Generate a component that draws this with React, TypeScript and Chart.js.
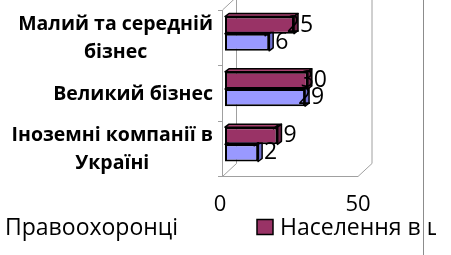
import React, { useEffect, useRef } from "react";
import { Chart, registerables } from "chart.js";

Chart.register(...registerables);

// ---- data ----
const categories: string[][] = [
  ["Малий та середній", "бізнес"],
  ["Великий бізнес"],
  ["Іноземні компанії в", "Україні"],
];
const seriesNames = ["Правоохоронці", "Населення в цілому"];
const lawEnforcement = [16, 29, 12];
const population = [25, 30, 19];
const xMin = 0;
const xMax = 50;
const xStep = 50;

// ---- styles ----
const PURPLE = "#993366";
const PURPLE_SIDE = "#6e2449";
const PURPLE_TOP = "#a8416f";
const BLUE = "#9999FF";
const BLUE_SIDE = "#6f6fcf";
const BLUE_TOP = "#a5a5ff";
const FRAME = "#a0a0a0";
const DX = 4;
const DY = 3;
const FONT = "'Open Sans', 'DejaVu Sans', sans-serif";

const faceColors: Record<number, { side: string; top: string }> = {
  0: { side: PURPLE_SIDE, top: PURPLE_TOP },
  1: { side: BLUE_SIDE, top: BLUE_TOP },
};

const decorPlugin = {
  id: "decor3d",
  beforeDatasetsDraw(chart: any) {
    const { ctx, chartArea: a, scales } = chart;
    const xs = scales.x;
    const ys = scales.y;
    const x0 = xs.getPixelForValue(xMin);
    const x1 = xs.getPixelForValue(xMax);
    const fl = x0 - 3;
    const fr = x1 - 5;
    const fb = a.bottom + 4.5;
    const ft = a.top + 4;
    const bl = x0 + 11;
    const br = x1 + 8.5;
    const bb = a.bottom - 8.5;
    const bt = a.top - 9;
    ctx.save();
    ctx.strokeStyle = FRAME;
    ctx.lineWidth = 1;
    const line = (ax: number, ay: number, bx: number, by: number) => {
      ctx.beginPath();
      ctx.moveTo(ax, ay);
      ctx.lineTo(bx, by);
      ctx.stroke();
    };
    line(fl + 0.5, ft, fl + 0.5, fb);
    line(fl + 0.5, ft, bl + 0.5, bt);
    line(bl + 0.5, bt, bl + 0.5, bb);
    line(fl + 0.5, fb, bl + 0.5, bb);
    line(fl, fb, fr, fb);
    line(fr, fb, br + 0.5, bb);
    line(br + 0.5, bb, br + 0.5, 0);
    for (let i = 0; i <= categories.length; i++) {
      const yy = Math.round(ys.getPixelForValue(i - 0.5) + 4) + 0.5;
      line(fl - 4, yy, fl, yy);
    }
    ctx.restore();

    // 3D faces of bars (drawn behind the library's front faces)
    ctx.save();
    ctx.strokeStyle = "#000";
    ctx.lineWidth = 1.5;
    ctx.lineJoin = "round";
    const metas = chart.getSortedVisibleDatasetMetas().slice().reverse();
    for (const meta of metas) {
      const fc = faceColors[meta.index];
      for (const el of meta.data) {
        const p = el.getProps(["x", "y", "base", "height"], true);
        const top = p.y - p.height / 2;
        const bot = p.y + p.height / 2;
        const l = Math.min(p.base, p.x);
        const r = Math.max(p.base, p.x);
        ctx.fillStyle = fc.top;
        ctx.beginPath();
        ctx.moveTo(l, top);
        ctx.lineTo(l + DX, top - DY);
        ctx.lineTo(r + DX, top - DY);
        ctx.lineTo(r, top);
        ctx.closePath();
        ctx.fill();
        ctx.stroke();
        ctx.fillStyle = fc.side;
        ctx.beginPath();
        ctx.moveTo(r, top);
        ctx.lineTo(r + DX, top - DY);
        ctx.lineTo(r + DX, bot - DY);
        ctx.lineTo(r, bot);
        ctx.closePath();
        ctx.fill();
        ctx.stroke();
      }
    }
    ctx.restore();
  },
  afterDatasetsDraw(chart: any) {
    const { ctx } = chart;
    ctx.save();
    ctx.fillStyle = "#000";
    ctx.font = `23px ${FONT}`;
    ctx.textAlign = "center";
    ctx.textBaseline = "middle";
    for (const meta of chart.getSortedVisibleDatasetMetas()) {
      const vals = chart.data.datasets[meta.index].data as number[];
      meta.data.forEach((el: any, i: number) => {
        const p = el.getProps(["x", "y"], true);
        ctx.fillText(String(vals[i]), p.x + 6, p.y);
      });
    }
    ctx.restore();
  },
  afterDraw(chart: any) {
    const { ctx } = chart;
    const ys = chart.scales.y;
    ctx.save();
    // category labels (right-aligned block, centred lines)
    ctx.fillStyle = "#000";
    ctx.font = `bold 19.5px ${FONT}`;
    ctx.textAlign = "center";
    ctx.textBaseline = "middle";
    const labelRight = 213;
    const lh = 28;
    categories.forEach((lines, i) => {
      const w = Math.max(...lines.map((t) => ctx.measureText(t).width));
      const cx = labelRight - w / 2;
      const cy = ys.getPixelForValue(i) + 5;
      lines.forEach((t, j) => {
        ctx.fillText(t, cx, cy + (j - (lines.length - 1) / 2) * lh);
      });
    });

    // legend (series 0 = Правоохоронці, blue; series 1 = population, purple)
    ctx.font = `23px ${FONT}`;
    ctx.textAlign = "left";
    const ly = 228;
    const legendItems = [
      { text: seriesNames[0], color: BLUE, x: 5 },
      { text: seriesNames[1], color: PURPLE, x: 280 },
    ];
    ctx.beginPath();
    ctx.rect(0, 0, 436, chart.height);
    ctx.clip();
    for (const it of legendItems) {
      ctx.fillStyle = it.color;
      ctx.fillRect(it.x - 23, ly - 8.5, 16, 15);
      ctx.strokeStyle = "#000";
      ctx.lineWidth = 1.5;
      ctx.strokeRect(it.x - 23, ly - 8.5, 16, 15);
      ctx.fillStyle = "#000";
      ctx.fillText(it.text, it.x, ly);
    }
    ctx.restore();

    // outer border line of the original picture
    ctx.save();
    ctx.strokeStyle = "#8c8c8c";
    ctx.lineWidth = 1;
    ctx.beginPath();
    ctx.moveTo(423.5, 0);
    ctx.lineTo(423.5, chart.height);
    ctx.stroke();
    ctx.restore();
  },
};

export default function App() {
  const ref = useRef<HTMLCanvasElement | null>(null);
  useEffect(() => {
    if (!ref.current) return;
    const chart = new Chart(ref.current, {
      type: "bar",
      data: {
        labels: categories,
        datasets: [
          {
            label: seriesNames[1],
            data: population,
            backgroundColor: PURPLE,
            borderColor: "#000",
            borderWidth: 2,
            borderSkipped: false,
          },
          {
            label: seriesNames[0],
            data: lawEnforcement,
            backgroundColor: BLUE,
            borderColor: "#000",
            borderWidth: 2,
            borderSkipped: false,
          },
        ],
      },
      options: {
        indexAxis: "y",
        responsive: false,
        animation: false,
        devicePixelRatio: 1,
        layout: { padding: { top: 6, right: 88, bottom: 0, left: 0 } },
        datasets: { bar: { categoryPercentage: 0.62, barPercentage: 1 } },
        plugins: { legend: { display: false }, tooltip: { enabled: false } },
        scales: {
          x: {
            min: xMin,
            max: xMax,
            grid: { display: false, drawTicks: false },
            border: { display: false },
            ticks: {
              stepSize: xStep,
              color: "#000",
              font: { family: FONT, size: 22 },
              padding: 20,
              labelOffset: -5,
              maxRotation: 0,
            },
            afterFit(s: any) {
              s.height = 83;
            },
          },
          y: {
            grid: { display: false },
            border: { display: false },
            ticks: { display: false },
            afterFit(s: any) {
              s.width = 225;
            },
          },
        },
      },
      plugins: [decorPlugin],
    } as any);
    return () => chart.destroy();
  }, []);
  return (
    <div style={{ position: "absolute", left: 0, top: 0, width: 451, height: 255, background: "#fff" }}>
      <canvas ref={ref} width={451} height={255} style={{ display: "block" }} />
    </div>
  );
}
